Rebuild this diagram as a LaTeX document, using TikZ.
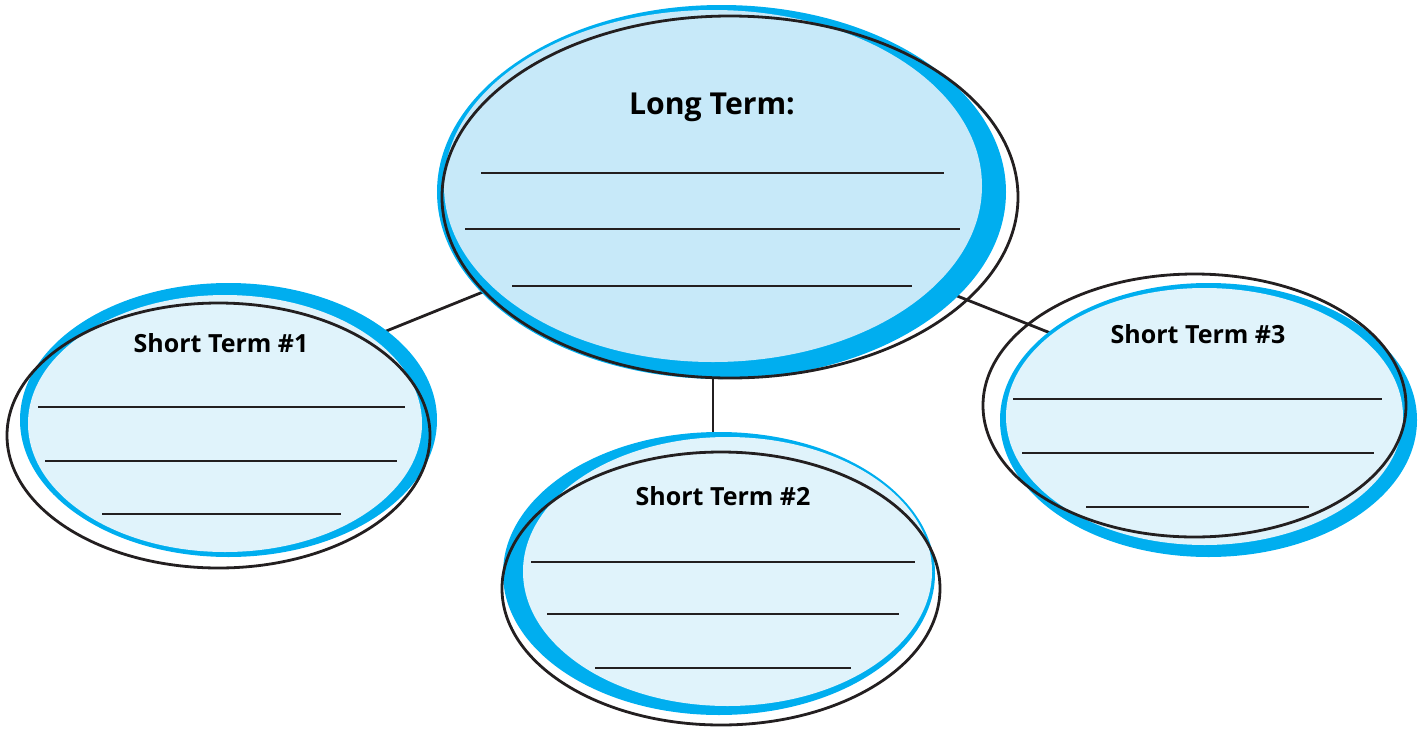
\documentclass[tikz,border=0pt]{standalone}
\usepackage{fontspec}
\setmainfont{Open Sans}
\definecolor{rimblue}{RGB}{0,174,239}
\definecolor{longfill}{RGB}{199,233,249}
\definecolor{shortfill}{RGB}{224,243,251}
\definecolor{ink}{RGB}{35,31,32}

\begin{document}
\begin{tikzpicture}[x=0.5pt,y=-0.5pt,
  rim/.style={fill=rimblue},
  outline/.style={draw=ink,line width=1.4pt},
  link/.style={draw=ink,line width=1.4pt},
  blank/.style={draw=ink,line width=0.85pt},
  title/.style={anchor=base,inner sep=0pt,text=black,
    font=\bfseries\fontsize{12.5}{15}\selectfont}]
  \useasboundingbox (0,0) rectangle (1426,729);

  % connectors, behind the bubbles
  \coordinate (hub) at (713,199);
  \coordinate (st1 end) at (228,395);
  \coordinate (st2 end) at (713,500);
  \coordinate (st3 end) at (1204,394);
  \draw[link] (hub) -- (st1 end);
  \draw[link] (hub) -- (st2 end);
  \draw[link] (hub) -- (st3 end);

  % long term
  \fill[rim] (721.5,192) ellipse [x radius=284.5,y radius=187];
  \fill[longfill] (713,186) ellipse [x radius=269,y radius=176];
  \node[title,font=\bfseries\fontsize{15.1}{18}\selectfont] (long) at (712,114.5) {Long Term:};
  \draw[blank] (481,173) -- (944,173);
  \draw[blank] (465,229) -- (960,229);
  \draw[blank] (512,286) -- (912,286);
  \draw[outline] (730,197) ellipse [x radius=288,y radius=181];

  % short term 1
  \fill[rim] (228.5,420) ellipse [x radius=208.5,y radius=137];
  \fill[shortfill] (225,423.5) ellipse [x radius=197,y radius=128.5];
  \node[title] (short1) at (221,352) {Short Term \#1};
  \draw[blank] (38,407) -- (405,407);
  \draw[blank] (45,461) -- (397,461);
  \draw[blank] (102,514) -- (341,514);
  \draw[outline] (218.5,435.5) ellipse [x radius=211.5,y radius=132.5];

  % short term 2
  \fill[rim] (719,573.5) ellipse [x radius=216,y radius=141.5];
  \fill[shortfill] (727.5,571.5) ellipse [x radius=204.5,y radius=134.5];
  \node[title] (short2) at (723,505) {Short Term \#2};
  \draw[blank] (531,562) -- (915,562);
  \draw[blank] (547,614) -- (899,614);
  \draw[blank] (595,668) -- (851,668);
  \draw[outline] (721,588.5) ellipse [x radius=219,y radius=136.5];

  % short term 3
  \fill[rim] (1208.5,420) ellipse [x radius=208.5,y radius=137];
  \fill[shortfill] (1204.5,416.5) ellipse [x radius=198.5,y radius=128.5];
  \node[title] (short3) at (1198,343) {Short Term \#3};
  \draw[blank] (1013,399) -- (1382,399);
  \draw[blank] (1022,453) -- (1374,453);
  \draw[blank] (1086,507) -- (1309,507);
  \draw[outline] (1194.5,405.5) ellipse [x radius=211.5,y radius=131.5];
\end{tikzpicture}
\end{document}
